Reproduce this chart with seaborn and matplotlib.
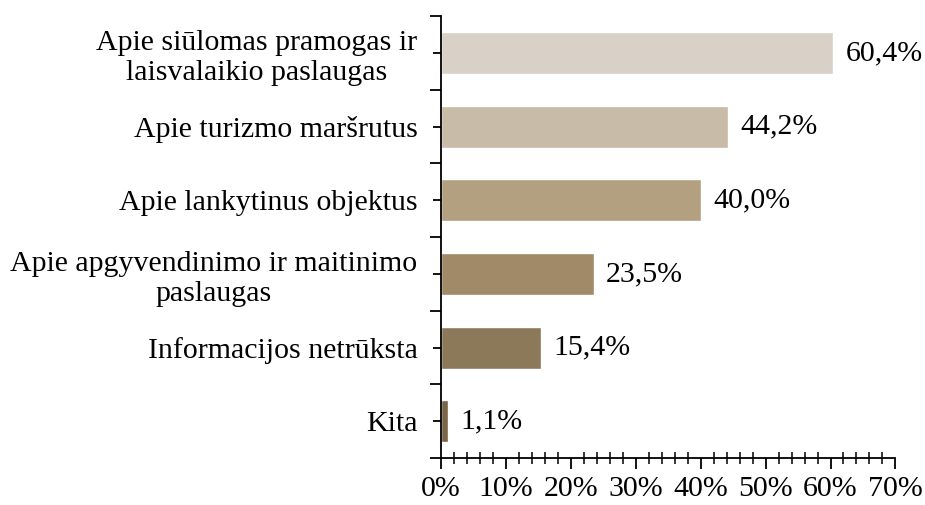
import numpy as np
import pandas as pd
import seaborn as sns
import matplotlib.pyplot as plt
from matplotlib.ticker import MultipleLocator, PercentFormatter

categories = ['Apie siūlomas pramogas ir\nlaisvalaikio paslaugas',
              'Apie turizmo maršrutus',
              'Apie lankytinus objektus',
              'Apie apgyvendinimo ir maitinimo\npaslaugas',
              'Informacijos netrūksta',
              'Kita']
values = [60.4, 44.2, 40.0, 23.5, 15.4, 1.1]
labels = ['60,4%', '44,2%', '40,0%', '23,5%', '15,4%', '1,1%']
colors = ['#d9d1c7', '#c8bba8', '#b3a081', '#a08a67', '#8b795a', '#7a6646']

df = pd.DataFrame({'kategorija': categories, 'procentai': values})

sns.set_style('white')
plt.rcParams['font.family'] = ['Liberation Serif', 'DejaVu Serif']
plt.rcParams['font.size'] = 21.5
plt.rcParams['text.color'] = 'black'
plt.rcParams['xtick.color'] = 'black'
plt.rcParams['ytick.color'] = 'black'

fig = plt.figure(figsize=(9.25, 5.05), dpi=100)
ax = fig.add_axes([0.477, 0.093, 0.491, 0.875])

sns.barplot(data=df, y='kategorija', x='procentai', hue='kategorija',
            palette=colors, saturation=1, orient='h', width=0.57,
            legend=False, ax=ax)

for i, (v, t) in enumerate(zip(values, labels)):
    ax.annotate(t, (v, i), xytext=(9, 0), textcoords='offset points',
                ha='left', va='center', fontsize=21.5, color='black')

ax.set_xlim(0, 70)
ax.set_ylim(len(categories) - 0.5, -0.5)
ax.set_xlabel('')
ax.set_ylabel('')

# x axis: major every 10 %, minor every 2 %
ax.xaxis.set_major_locator(MultipleLocator(10))
ax.xaxis.set_minor_locator(MultipleLocator(2))
ax.xaxis.set_major_formatter(PercentFormatter(decimals=0))
ax.tick_params(axis='x', which='major', direction='out', length=8, width=1.3,
               labelsize=21.5, pad=5, bottom=True)
ax.tick_params(axis='x', which='minor', direction='inout', length=9, width=1.1,
               bottom=True)

# y axis: major ticks at the borders, labels on minor ticks at the centers
ax.set_yticks(np.arange(-0.5, len(categories), 1.0))
ax.set_yticklabels([])
ax.set_yticks(np.arange(len(categories)), categories, minor=True)
for lab in ax.get_yticklabels(minor=True):
    lab.set_multialignment('center')
ax.tick_params(axis='y', which='major', direction='out', length=8, width=1.3,
               left=True)
ax.tick_params(axis='y', which='minor', direction='inout', length=12, width=1.3,
               labelsize=21.5, pad=11, left=True)

for side in ['top', 'right']:
    ax.spines[side].set_visible(False)
for side in ['left', 'bottom']:
    ax.spines[side].set_color('black')
    ax.spines[side].set_linewidth(1.3)

fig.savefig('out.png', dpi=100)
